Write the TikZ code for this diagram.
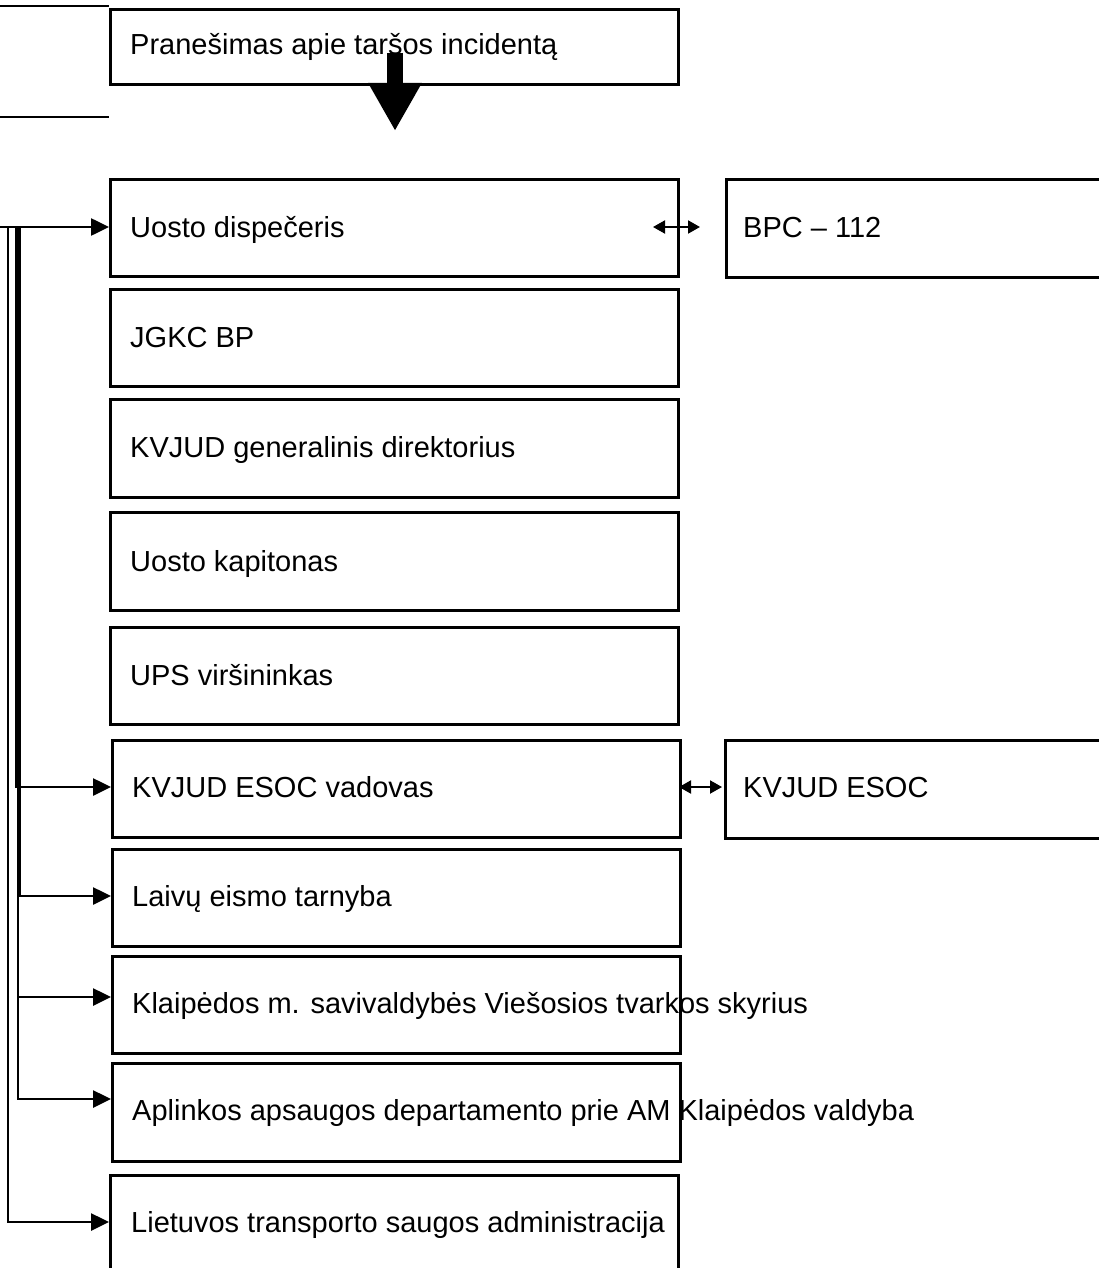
\documentclass[tikz,border=0pt]{standalone}
\usepackage{fontspec}
\setmainfont{Liberation Sans}
\usetikzlibrary{arrows.meta}
\begin{document}
\begin{tikzpicture}[x=1pt,y=-1pt,
  box/.style={draw, line width=2.8pt, inner sep=0pt, anchor=north west, minimum width=568pt},
  lbl/.style={anchor=base west, inner sep=0pt, font=\fontsize{29}{33}\selectfont},
  conn/.style={line width=2.6pt, -{Triangle[length=18pt,width=17pt]}},
  dbl/.style={line width=2pt, {Triangle[length=12pt,width=13pt]}-{Triangle[length=12pt,width=13pt]}},
  bigarrow/.style={line width=16pt, -{Triangle[length=48pt,width=50pt]}}
]
\useasboundingbox[fill=white] (0,0) rectangle (1099,1268);
% partial box at the left edge
\draw[line width=2.8pt] (0,6) -- (109,6);
\draw[line width=2.8pt] (0,117) -- (109,117);
% boxes
\node[box, minimum height=75pt] (top) at (109,8) {};
\node[box, minimum height=97pt] (uosto) at (109,178) {};
\node[box, minimum height=98pt, minimum width=400pt] (bpc) at (725,178) {};
\node[box, minimum height=97pt] (jgkc) at (109,288) {};
\node[box, minimum height=98pt] (gen) at (109,398) {};
\node[box, minimum height=98pt] (kap) at (109,511) {};
\node[box, minimum height=97pt] (ups) at (109,626) {};
\node[box, minimum height=97pt] (vad) at (111,739) {};
\node[box, minimum height=98pt, minimum width=400pt] (esoc) at (724,739) {};
\node[box, minimum height=97pt] (laiv) at (111,848) {};
\node[box, minimum height=97pt] (klp) at (111,955) {};
\node[box, minimum height=98pt] (apl) at (111,1062) {};
\node[box, minimum height=120pt] (liet) at (109,1174) {};
% labels
\node[lbl] (ttop) at (130,55) {Pranešimas apie taršos incidentą};
\node[lbl] (tuosto) at (130,237) {Uosto dispečeris};
\node[lbl] (tbpc) at (743,237) {BPC – 112};
\node[lbl] (tjgkc) at (130,347) {JGKC BP};
\node[lbl] (tgen) at (130,457) {KVJUD generalinis direktorius};
\node[lbl] (tkap) at (130,571) {Uosto kapitonas};
\node[lbl] (tups) at (130,685) {UPS viršininkas};
\node[lbl] (tvad) at (132,797) {KVJUD ESOC vadovas};
\node[lbl] (tesoc) at (743,797) {KVJUD ESOC};
\node[lbl] (tlaiv) at (132,906) {Laivų eismo tarnyba};
\node[lbl] (tklp) at (132,1013) {Klaipėdos m. savivaldybės Viešosios tvarkos skyrius};
\node[lbl] (tapl) at (132,1120) {Aplinkos apsaugos departamento prie AM Klaipėdos valdyba};
\node[lbl] (tliet) at (131,1232) {Lietuvos transporto saugos administracija};
% big arrow
\coordinate (bigS) at (395,53);
\coordinate (bigT) at (395,131);
\draw[bigarrow] (bigS) -- (bigT);
% connector coordinates
\coordinate (src) at (0,227);
\coordinate (a0) at (8,227);
\coordinate (b0) at (16,227);
\coordinate (c0) at (20,227);
\coordinate (d0) at (18,227);
\coordinate (pUosto) at (109,227);
\coordinate (pVad) at (111,787);
\coordinate (pLaiv) at (111,896);
\coordinate (pKlp) at (111,997);
\coordinate (pApl) at (111,1099);
\coordinate (pLiet) at (109,1222);
\coordinate (dKlp) at (18,997);
% connectors
\draw[conn] (src) -- (pUosto);
\draw[conn] (a0) |- (pLiet);
\draw[conn] (b0) |- (pVad);
\draw[conn] (c0) |- (pLaiv);
\draw[conn] (d0) |- (pApl);
\draw[conn] (dKlp) -- (pKlp);
% double arrows
\coordinate (u1) at (653,227);
\coordinate (u2) at (700,227);
\coordinate (e1) at (679,787);
\coordinate (e2) at (722,787);
\draw[dbl] (u1) -- (u2);
\draw[dbl] (e1) -- (e2);
\end{tikzpicture}
\end{document}
